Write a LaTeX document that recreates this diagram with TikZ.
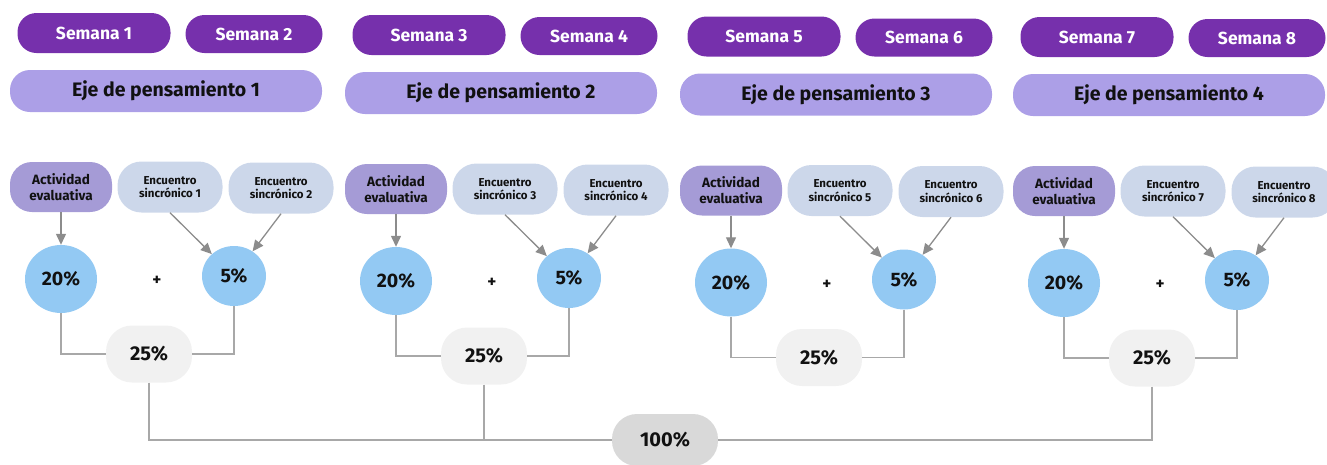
\documentclass[tikz,border=0pt]{standalone}
\usepackage{fontspec}
\setmainfont{Fira Sans}
\usetikzlibrary{arrows.meta,shapes.geometric}
\definecolor{semc}{HTML}{7630AC}
\definecolor{ejec}{HTML}{AC9FE7}
\definecolor{actc}{HTML}{A59BD6}
\definecolor{encc}{HTML}{CCD7EA}
\definecolor{circc}{HTML}{93C9F3}
\definecolor{tfc}{HTML}{F1F1F1}
\definecolor{hundc}{HTML}{D9D9D9}
\definecolor{lnc}{HTML}{A8A8A8}
\definecolor{arrc}{HTML}{8C8C8C}
\definecolor{txt}{HTML}{111111}
\begin{document}
\begin{tikzpicture}[x=1pt,y=-1pt,
  every node/.style={inner sep=0pt, text=txt},
  semana/.style={rectangle, rounded corners=19pt, fill=semc, text=white,
    font=\bfseries\fontsize{17.5}{20}\selectfont, minimum height=40pt},
  ejebox/.style={rectangle, rounded corners=20pt, fill=ejec, minimum width=312pt,
    minimum height=42pt, font=\bfseries\fontsize{19.5}{22}\selectfont},
  actbox/.style={rectangle, rounded corners=22pt, fill=actc, minimum width=102pt,
    minimum height=50pt, align=center, font=\bfseries\fontsize{13.5}{16}\selectfont},
  encbox/.style={rectangle, rounded corners=24pt, fill=encc, minimum width=105pt,
    minimum height=51pt, align=center, font=\bfseries\fontsize{11.5}{13.5}\selectfont},
  pcbig/.style={ellipse, fill=circc, minimum width=72pt, minimum height=68pt,
    font=\bfseries\fontsize{19.5}{22}\selectfont},
  pcsmall/.style={ellipse, fill=circc, minimum width=64pt, minimum height=60pt,
    font=\bfseries\fontsize{19.5}{22}\selectfont},
  plusnode/.style={font=\bfseries\fontsize{17}{18}\selectfont},
  quarter/.style={rectangle, rounded corners=26pt, fill=tfc, minimum width=86pt,
    minimum height=57pt, font=\bfseries\fontsize{20}{22}\selectfont},
  total/.style={rectangle, rounded corners=25pt, fill=hundc, minimum width=106pt,
    minimum height=52pt, font=\bfseries\fontsize{20}{22}\selectfont},
  conn/.style={draw=lnc, line width=1.3pt},
  arrw/.style={draw=arrc, line width=1.3pt, -{Triangle[length=11pt,width=10pt]}}
]
\useasboundingbox (0,0) rectangle (1327,464);
\foreach \i/\dx/\dy in {1/0/0, 2/335/2, 3/670/3.5, 4/1003/4}{
  \pgfmathtruncatemacro{\wa}{2*\i-1}
  \pgfmathtruncatemacro{\wb}{2*\i}
  \node[semana, minimum width=153pt] (sa\i) at (94+\dx,33+\dy) {Semana \wa};
  \node[semana, minimum width=137pt, minimum height=38pt] (sb\i) at (254+\dx,34+\dy) {Semana \wb};
  \node[ejebox] (eje\i) at (166+\dx,91+\dy) {Eje de pensamiento \i};
  \node[actbox] (act\i) at (61+\dx,187+\dy) {Actividad\\evaluativa};
  \node[encbox] (ea\i) at (170+\dx,187+\dy) {Encuentro\\sincrónico \wa};
  \node[encbox] (eb\i) at (281+\dx,188+\dy) {Encuentro\\sincrónico \wb};
  \node[pcbig] (pb\i) at (61+\dx,279+\dy) {20\%};
  \node[plusnode] (pl\i) at (157+\dx,281+\dy) {+};
  \node[pcsmall] (ps\i) at (234+\dx,276+\dy) {5\%};
  \node[quarter] (q\i) at (149+\dx,354+\dy) {25\%};
  \draw[arrw] (act\i.south) -- (pb\i.north);
  \draw[arrw] (ea\i.south) -- (ps\i);
  \draw[arrw] (eb\i.south) -- (ps\i);
  \draw[conn] (pb\i.south) |- (q\i.west);
  \draw[conn] (ps\i.south) |- (q\i.east);
}
\node[total] (hund) at (665,440) {100\%};
\draw[conn] (q1.south) |- (hund.west);
\draw[conn] (q2.south) |- (hund.west);
\draw[conn] (q4.south) |- (hund.east);
\end{tikzpicture}
\end{document}
